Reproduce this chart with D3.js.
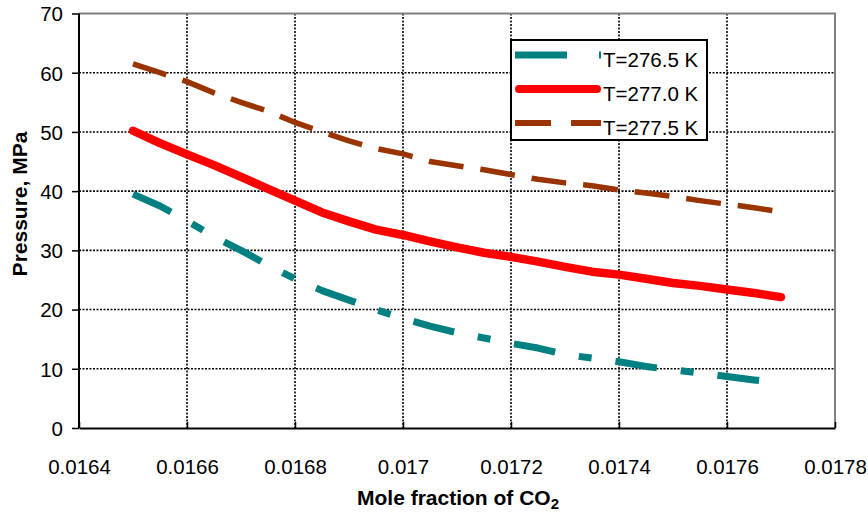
<!DOCTYPE html>
<html>
<head>
<meta charset="utf-8">
<script src="https://cdn.jsdelivr.net/npm/d3@7"></script>
<style>
  body { margin:0; background:#fff; }
  svg { display:block; font-family:"Liberation Sans", Arial, sans-serif; }
</style>
</head>
<body>
<svg></svg>
<script>
// mole fraction of CO2 (x values, shared by all three series)
var moleFraction = [0.01650,0.01655,0.01660,0.01665,0.01670,0.01675,0.01680,0.01685,0.01690,
                    0.01695,0.01700,0.01705,0.01710,0.01715,0.01720,0.01725,0.01730,0.01735,
                    0.01740,0.01745,0.01750,0.01755,0.01760,0.01765,0.01770];
// pressure, MPa
var p2765 = [39.5,37.5,35.0,32.3,30.0,27.5,25.2,23.2,21.6,20.0,18.5,17.2,16.1,15.2,14.3,13.5,
             12.4,11.8,11.2,10.4,9.8,9.3,8.7,8.1,7.6];
var p2770 = [50.2,48.1,46.2,44.4,42.4,40.4,38.4,36.4,34.9,33.5,32.6,31.5,30.5,29.6,28.9,28.1,
             27.2,26.4,25.9,25.2,24.5,24.0,23.4,22.8,22.1];
var p2775 = [61.5,60.0,58.5,56.6,55.0,53.5,51.6,50.0,48.5,47.2,46.3,45.0,44.3,43.6,42.8,42.0,
             41.4,40.9,40.2,39.7,39.1,38.4,37.8,37.2,36.5];
var seriesNames = ["T=276.5 K","T=277.0 K","T=277.5 K"];
var xTicks = [0.0164,0.0166,0.0168,0.017,0.0172,0.0174,0.0176,0.0178];
var yTicks = [0,10,20,30,40,50,60,70];

var screen = { width:868, height:512 };
var plot = { left:79, right:835, top:13.5, bottom:428 };

var svg = d3.select('svg')
            .attr('width',screen.width)
            .attr('height',screen.height);

var xscale = d3.scaleLinear()
              .domain([0.0164,0.0178])
              .range([plot.left,plot.right]);
var yscale = d3.scaleLinear()
              .domain([0,70])
              .range([plot.bottom,plot.top]);

// dotted grid
svg.append('g').selectAll('line')
   .data(yTicks.slice(1,-1))
   .enter().append('line')
   .attr('x1',plot.left).attr('x2',plot.right)
   .attr('y1',function(d){ return yscale(d); })
   .attr('y2',function(d){ return yscale(d); })
   .attr('stroke','#000').attr('stroke-width',1.6)
   .attr('stroke-dasharray','2,1.5');
svg.append('g').selectAll('line')
   .data(xTicks.slice(1,-1))
   .enter().append('line')
   .attr('y1',plot.top).attr('y2',plot.bottom)
   .attr('x1',function(d){ return xscale(d); })
   .attr('x2',function(d){ return xscale(d); })
   .attr('stroke','#000').attr('stroke-width',1.6)
   .attr('stroke-dasharray','2,1.5');

// grey frame on top and right
svg.append('path')
   .attr('d','M'+plot.left+','+plot.top+'H'+plot.right+'V'+plot.bottom)
   .attr('fill','none').attr('stroke','#808080').attr('stroke-width',2);

// axes
var yAxis = d3.axisLeft(yscale).tickValues(yTicks).tickSize(7).tickPadding(9);
var xAxis = d3.axisBottom(xscale).tickValues(xTicks).tickSizeInner(-6).tickSizeOuter(0)
              .tickFormat(function(d){ return String(+d.toFixed(4)); });

var gy = svg.append('g').attr('transform','translate('+plot.left+',0)').call(yAxis);
var gx = svg.append('g').attr('transform','translate(0,'+plot.bottom+')').call(xAxis);
gy.select('.domain').attr('stroke','#000').attr('stroke-width',2)
  .attr('d','M0,'+plot.top+'V'+plot.bottom);
gx.select('.domain').attr('stroke','#000').attr('stroke-width',2);
gy.selectAll('.tick line').attr('stroke','#000').attr('stroke-width',1.5);
gx.selectAll('.tick line').attr('stroke','#000').attr('stroke-width',1.5);
gy.selectAll('.tick text').attr('font-size','20.5px').attr('fill','#000')
  .attr('font-family','"Liberation Sans", Arial, sans-serif').attr('dy','0.36em');
gx.selectAll('.tick text').attr('font-size','20.5px').attr('fill','#000')
  .attr('font-family','"Liberation Sans", Arial, sans-serif')
  .attr('y',46).attr('dy',0);

// axis titles
svg.append('text')
   .attr('x',458).attr('y',505)
   .attr('text-anchor','middle')
   .attr('font-size','21px').attr('font-weight','bold')
   .html('Mole fraction of CO<tspan font-size="15px" dy="4">2</tspan>');
svg.append('text')
   .attr('transform','translate(27,204) rotate(-90)')
   .attr('text-anchor','middle')
   .attr('font-size','21px').attr('font-weight','bold')
   .text('Pressure, MPa');

// series
var styles = [
  { color:'#008080', width:7, dash:'42,24,13,24', cap:'butt', legendDash:'52,32,13,32' },
  { color:'#ff0000', width:8.5, dash:null, cap:'round', legendDash:null },
  { color:'#993300', width:5.5, dash:'35,17', cap:'butt', legendDash:'36,20' }
];
var series = [p2765,p2770,p2775];

var line = d3.line()
             .x(function(d){ return xscale(d[0]); })
             .y(function(d){ return yscale(d[1]); });

var plotLand = svg.append('g').classed('plot',true);
plotLand.selectAll('path')
  .data(series)
  .enter()
  .append('path')
  .attr('d',function(vals)
  {
    return line(vals.map(function(v,i){ return [moleFraction[i],v]; }));
  })
  .attr('fill','none')
  .attr('stroke',function(d,i){ return styles[i].color; })
  .attr('stroke-width',function(d,i){ return styles[i].width; })
  .attr('stroke-linecap',function(d,i){ return styles[i].cap; })
  .attr('stroke-linejoin','round')
  .attr('stroke-dasharray',function(d,i){ return styles[i].dash; });

// legend
var legend = svg.append('g');
legend.append('rect')
      .attr('x',511).attr('y',40).attr('width',196).attr('height',100)
      .attr('fill','#fff').attr('stroke','#000').attr('stroke-width',2);
var rows = legend.selectAll('g.row')
      .data(seriesNames)
      .enter().append('g').classed('row',true)
      .attr('transform',function(d,i){ return 'translate(0,'+(i*34)+')'; });
rows.append('line')
    .attr('x1',function(d,i){ return i==1 ? 519 : 515; })
    .attr('x2',function(d,i){ return i==1 ? 597 : 601; })
    .attr('y1',55).attr('y2',55)
    .attr('stroke',function(d,i){ return styles[i].color; })
    .attr('stroke-width',function(d,i){ return i==1 ? 8 : (i==0 ? 7 : 6); })
    .attr('stroke-linecap',function(d,i){ return styles[i].cap; })
    .attr('stroke-dasharray',function(d,i){ return styles[i].legendDash; });
rows.append('text')
    .attr('x',603).attr('y',67)
    .attr('font-size','20.5px')
    .text(function(d){ return d; });
</script>
</body>
</html>
